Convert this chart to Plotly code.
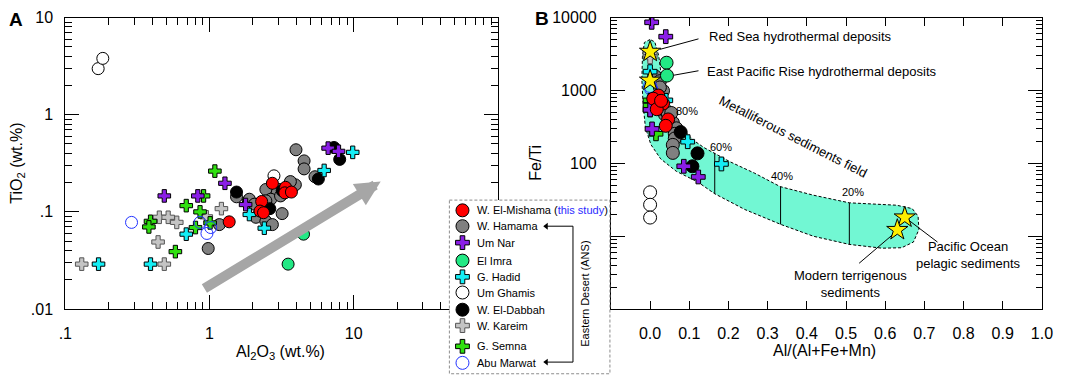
import numpy as np
import plotly.graph_objects as go

W, H = 1065, 384
FONT = "Arial, 'Liberation Sans', sans-serif"

# ---------------- Panel A : Al2O3 (wt.%) vs TiO2 (wt.%) ----------------
mishama_al2o3 = [2.73, 3.37, 3.33, 3.70, 2.30, 2.24, 2.37, 1.37]
mishama_tio2 = [0.197, 0.179, 0.157, 0.160, 0.128, 0.102, 0.098, 0.079]
hamama_al2o3 = [3.98, 4.53, 4.53, 5.39, 0.98, 1.17, 1.54, 1.86, 2.10, 2.46, 2.73, 3.19, 2.46,
                3.03, 3.74, 3.19, 3.94, 1.89, 3.64, 2.95, 2.66, 2.05, 2.46, 3.28, 3.11]
hamama_tio2 = [0.436, 0.335, 0.277, 0.230, 0.042, 0.074, 0.143, 0.130, 0.088, 0.080, 0.074, 0.096, 0.170,
               0.170, 0.180, 0.152, 0.190, 0.135, 0.205, 0.157, 0.135, 0.120, 0.130, 0.170, 0.146]
umnar_al2o3 = [6.65, 7.85, 0.486, 0.83, 1.28, 1.78]
umnar_tio2 = [0.453, 0.42, 0.146, 0.146, 0.197, 0.119]
elimra_al2o3 = [4.49, 3.51]
elimra_tio2 = [0.059, 0.029]
hadid_al2o3 = [9.85, 6.24, 0.17, 0.39, 0.69, 2.40, 1.89]
hadid_tio2 = [0.41, 0.267, 0.029, 0.029, 0.059, 0.068, 0.094]
ghamis_al2o3 = [0.169, 0.182, 2.80]
ghamis_tio2 = [2.98, 3.80, 0.235]
dabbah_al2o3 = [7.3, 8.0, 5.69, 1.54, 2.62, 3.19]
dabbah_tio2 = [0.46, 0.347, 0.218, 0.16, 0.108, 0.166]
kareim_al2o3 = [1.21, 0.449, 0.517, 0.593, 0.95, 0.44, 0.13, 0.486]
kareim_tio2 = [0.108, 0.088, 0.088, 0.078, 0.089, 0.049, 0.029, 0.029]
semna_al2o3 = [1.09, 0.91, 0.69, 0.86, 0.39, 0.38, 0.80, 0.58, 1.01]
semna_tio2 = [0.263, 0.146, 0.116, 0.100, 0.080, 0.070, 0.069, 0.039, 0.077]
marwat_al2o3 = [0.288, 0.86, 0.96, 1.02]
marwat_tio2 = [0.078, 0.078, 0.060, 0.069]

# trend arrow (start / end in data units)
trend_al2o3 = [0.90, 15.4]
trend_tio2 = [0.0159, 0.205]

# ---------------- Panel B : Al/(Al+Fe+Mn) vs Fe/Ti ----------------
mishama_ratio = [0.021, 0.008, 0.033, 0.017, 0.046, 0.040, 0.028]
mishama_feti = [851, 770, 661, 552, 400, 327, 720]
hamama_ratio = [0.013, 0.025, 0.033, 0.025, 0.038, 0.050, 0.058, 0.067, 0.063, 0.063, 0.058, 0.058,
                0.030, 0.045, 0.054]
hamama_feti = [1556, 1340, 989, 1100, 465, 420, 362, 302, 254, 219, 179, 139, 560, 480, 491]
umnar_ratio = [0.004, 0.040, 0.086, 0.123, 0.005, 0.000]
umnar_feti = [8600, 5470, 91, 65, 296, 541]
elimra_ratio = [0.042, 0.043]
elimra_feti = [2400, 1600]
hadid_ratio = [0.096, 0.182, 0.000, 0.040]
hadid_feti = [198, 98, 1810, 731]
ghamis_ratio = [0.0, 0.0, 0.0]
ghamis_feti = [40, 27, 18]
dabbah_ratio = [0.078, 0.121, 0.108]
dabbah_feti = [268, 137, 91]
kareim_ratio = [0.0, 0.0]
kareim_feti = [3150, 2900]
semna_ratio = [0.0, 0.0, 0.015, 0.0]
semna_feti = [731, 541, 254, 620]
marwat_ratio = [0.0, 0.003]
marwat_feti = [1150, 1040]

ref_names = ["Red Sea hydrothermal deposits", "East Pacific Rise hydrothermal deposits",
             "Pacific Ocean<br>pelagic sediments", "Modern terrigenous<br>sediments"]
ref_ratio = [0.0, 0.0, 0.65, 0.631]
ref_feti = [3400, 1365, 18.1, 12.2]

# metalliferous sediments field outline
field_ratio = [0.0, -0.0145, -0.0195, -0.021, -0.018, -0.012, 0.002, 0.027, 0.067, 0.121, 0.165, 0.242,
               0.3335, 0.417, 0.5085, 0.592, 0.642, 0.672, 0.686, 0.684, 0.669, 0.629, 0.5085, 0.417,
               0.332, 0.267, 0.204, 0.165, 0.137, 0.109, 0.087, 0.067, 0.052, 0.039, 0.029, 0.022,
               0.012, 0.0]
field_feti = [5000, 4560, 2990, 1406, 661, 311, 181, 115, 77.6, 55.7, 38.2, 23.2,
              14.5, 9.97, 7.71, 6.84, 6.94, 8.3, 12.3, 18.8, 23.9, 26.6, 28.7, 36.5,
              47.9, 73.1, 105, 138, 165, 210, 284, 421, 622, 950, 1540, 2990,
              4630, 5000]
mix_labels = ["80%", "60%", "40%", "20%"]
mix_label_ratio = [0.094, 0.181, 0.3375, 0.5185]
mix_label_feti = [520, 167, 66.7, 40.8]
mix_line_ratio = [0.165, 0.333, 0.5085]
mix_line_low = [38.2, 14.5, 7.6]
mix_line_high = [139, 48, 28.7]

groups = ["W. El-Mishama", "W. Hamama", "Um Nar", "El Imra", "G. Hadid", "Um Ghamis",
          "W. El-Dabbah", "W. Kareim", "G. Semna", "Abu Marwat"]

panelA = {
    "W. El-Mishama": (mishama_al2o3, mishama_tio2), "W. Hamama": (hamama_al2o3, hamama_tio2),
    "Um Nar": (umnar_al2o3, umnar_tio2), "El Imra": (elimra_al2o3, elimra_tio2),
    "G. Hadid": (hadid_al2o3, hadid_tio2), "Um Ghamis": (ghamis_al2o3, ghamis_tio2),
    "W. El-Dabbah": (dabbah_al2o3, dabbah_tio2), "W. Kareim": (kareim_al2o3, kareim_tio2),
    "G. Semna": (semna_al2o3, semna_tio2), "Abu Marwat": (marwat_al2o3, marwat_tio2)}
panelB = {
    "W. El-Mishama": (mishama_ratio, mishama_feti), "W. Hamama": (hamama_ratio, hamama_feti),
    "Um Nar": (umnar_ratio, umnar_feti), "El Imra": (elimra_ratio, elimra_feti),
    "G. Hadid": (hadid_ratio, hadid_feti), "Um Ghamis": (ghamis_ratio, ghamis_feti),
    "W. El-Dabbah": (dabbah_ratio, dabbah_feti), "W. Kareim": (kareim_ratio, kareim_feti),
    "G. Semna": (semna_ratio, semna_feti), "Abu Marwat": (marwat_ratio, marwat_feti)}

styles = {
    "W. El-Mishama": dict(symbol="circle", color="#ff0000", line="#000000", lw=1),
    "W. Hamama": dict(symbol="circle", color="#808080", line="#000000", lw=1),
    "Um Nar": dict(symbol="cross", color="#8a1ee6", line="#000000", lw=1),
    "El Imra": dict(symbol="circle", color="#22e884", line="#000000", lw=1),
    "G. Hadid": dict(symbol="cross", color="#14eef5", line="#000000", lw=1),
    "Um Ghamis": dict(symbol="circle", color="#ffffff", line="#000000", lw=1),
    "W. El-Dabbah": dict(symbol="circle", color="#000000", line="#000000", lw=1),
    "W. Kareim": dict(symbol="cross", color="#c4c4c4", line="#555555", lw=1),
    "G. Semna": dict(symbol="cross", color="#30e010", line="#000000", lw=1),
    "Abu Marwat": dict(symbol="circle-open", color="#2233ff", line="#2233ff", lw=1),
}
draw_order = ["W. Hamama", "W. El-Dabbah", "Um Ghamis", "W. Kareim", "G. Semna", "Abu Marwat",
              "El Imra", "G. Hadid", "Um Nar", "W. El-Mishama"]


def marker(name, size):
    s = styles[name]
    sz = size - 1.5 if s["symbol"] == "cross" else size
    return dict(symbol=s["symbol"], size=sz, color=s["color"],
                line=dict(color=s["line"], width=s["lw"]))


fig = go.Figure()

# ---- panel B field first ----
fig.add_trace(go.Scatter(x=field_ratio, y=field_feti, xaxis="x2", yaxis="y2", mode="lines",
                         fill="toself", fillcolor="#72f7d3",
                         line=dict(color="black", width=1, dash="3px,2px"),
                         hoverinfo="skip", showlegend=False))
for xr, lo, hi in zip(mix_line_ratio, mix_line_low, mix_line_high):
    fig.add_trace(go.Scatter(x=[xr, xr], y=[lo, hi], xaxis="x2", yaxis="y2", mode="lines",
                             line=dict(color="black", width=1), hoverinfo="skip", showlegend=False))

# leader lines in panel B
leader_ratio = [(0.025, 0.1235), (0.029, 0.1235), (0.6585, 0.7335), (0.621, 0.5335)]
leader_feti = [(3660, 5100), (1507, 1862), (16.8, 8.3), (10.7, 4.25)]
for lx, ly in zip(leader_ratio, leader_feti):
    fig.add_trace(go.Scatter(x=list(lx), y=list(ly), xaxis="x2", yaxis="y2", mode="lines",
                             line=dict(color="black", width=1), hoverinfo="skip", showlegend=False))

for g in draw_order:
    xa, ya = panelA[g]
    fig.add_trace(go.Scatter(x=xa, y=ya, xaxis="x", yaxis="y", mode="markers", marker=marker(g, 12),
                             hoverinfo="skip", showlegend=False))
    xb, yb = panelB[g]
    fig.add_trace(go.Scatter(x=xb, y=yb, xaxis="x2", yaxis="y2", mode="markers", marker=marker(g, 13),
                             hoverinfo="skip", showlegend=False))

fig.add_trace(go.Scatter(x=ref_ratio, y=ref_feti, xaxis="x2", yaxis="y2", mode="markers",
                         marker=dict(symbol="star", size=16, color="#ffee00", line=dict(color="black", width=1)),
                         hoverinfo="skip", showlegend=False))

# ---- overlay (pixel space) : custom legend ----
box_x = [450, 613.3, 613.3, 450, 450]
box_y = [201, 201, 382.7, 382.7, 201]
fig.add_trace(go.Scatter(x=box_x, y=box_y, xaxis="x3", yaxis="y3", mode="lines", fill="toself",
                         fillcolor="white", line=dict(color="#8c8c8c", width=1, dash="3px,2px"),
                         hoverinfo="skip", showlegend=False))
legend_rows = [211.7, 228.3, 245.5, 264.3, 281.3, 297.7, 315.7, 332.3, 354.0, 371.3]
for g, ry in zip(groups, legend_rows):
    fig.add_trace(go.Scatter(x=[463.3], y=[ry], xaxis="x3", yaxis="y3", mode="markers",
                             marker=marker(g, 13), hoverinfo="skip", showlegend=False))
fig.add_trace(go.Scatter(x=[547, 575.7, 575.7, 547], y=[228.3, 228.3, 370.5, 370.5], xaxis="x3", yaxis="y3",
                         mode="lines", line=dict(color="black", width=1), hoverinfo="skip", showlegend=False))
fig.add_trace(go.Scatter(x=[548.5, 548.5], y=[228.3, 370.5], xaxis="x3", yaxis="y3", mode="markers",
                         marker=dict(symbol="triangle-left", size=6, color="black"),
                         hoverinfo="skip", showlegend=False))

# ---- axes ----
def log_minor(lo, hi):
    return [m * 10.0 ** k for k in range(lo, hi) for m in range(2, 10)]

common = dict(showline=True, linecolor="black", linewidth=1, mirror="allticks", ticks="inside",
              tickcolor="black", tickwidth=1, showgrid=False, zeroline=False,
              tickfont=dict(family=FONT, size=16, color="black"), fixedrange=True)

fig.update_layout(
    width=W, height=H, autosize=False, margin=dict(l=0, r=0, t=0, b=0),
    paper_bgcolor="#ffffff", plot_bgcolor="rgba(0,0,0,0)", showlegend=False,
    font=dict(family=FONT, color="black"),
    xaxis=dict(type="log", range=[-1, 2], domain=[59.3 / W, 499.3 / W], anchor="y",
               tickvals=[0.1, 1, 10, 100], ticktext=[".1", "1", "10", ""], ticklen=14,
               ticklabelstandoff=10,
               minor=dict(ticks="inside", ticklen=7, tickcolor="black", tickvals=log_minor(-1, 2)), **common),
    yaxis=dict(type="log", range=[-2, 1], domain=[(H - 315) / H, (H - 10) / H], anchor="x",
               tickvals=[0.01, 0.1, 1, 10], ticktext=[".01", ".1", "1", "10"], ticklen=14,
               ticklabelstandoff=8,
               minor=dict(ticks="inside", ticklen=7, tickcolor="black", tickvals=log_minor(-2, 1)), **common),
    xaxis2=dict(range=[-0.1, 1.0], domain=[614.3 / W, 1052.7 / W], anchor="y2",
                tickvals=[round(0.1 * i, 1) for i in range(11)],
                ticktext=["%.1f" % (0.1 * i) for i in range(11)], ticklen=8, ticklabelstandoff=10, **common),
    yaxis2=dict(type="log", range=[0, 4], domain=[(H - 315) / H, (H - 10) / H], anchor="x2",
                tickvals=[1, 10, 100, 1000, 10000], ticktext=["", "", "100", "1000", "10000"],
                ticklen=14, ticklabelstandoff=10,
                minor=dict(ticks="inside", ticklen=6, tickcolor="black", tickvals=log_minor(0, 4)), **common),
    xaxis3=dict(range=[0, W], domain=[0, 1], anchor="y3", visible=False, fixedrange=True),
    yaxis3=dict(range=[H, 0], domain=[0, 1], anchor="x3", visible=False, fixedrange=True),
)

ann = []
def px(text, x, y, size=11, angle=0, xanchor="center", bold=False):
    ann.append(dict(text=("<b>%s</b>" % text) if bold else text, x=x, y=y, xref="x3", yref="y3",
                    showarrow=False, xanchor=xanchor, yanchor="middle", textangle=angle,
                    font=dict(family=FONT, size=size, color="black")))

# legend texts
for g, ry in zip(groups, legend_rows):
    label = g
    if g == "W. El-Mishama":
        label = 'W. El-Mishama (<span style="color:#2b2bff">this study</span>)'
    px(label, 476, ry, size=11, xanchor="left")
px("Eastern Desert (ANS)", 588, 299, size=11, angle=-90)

# titles and panel letters
px("Al<sub>2</sub>O<sub>3</sub> (wt.%)", 278, 360, size=16)
px("TiO<sub>2</sub> (wt.%)", 11, 162, size=16, angle=-90)
px("Al/(Al+Fe+Mn)", 831.7, 358, size=16)
px("Fe/Ti", 538, 162, size=16, angle=-90)
px("A", 9, 12, size=19, bold=True)
px("B", 543.7, 11, size=19, bold=True)

# panel B labels
def dat(text, x, y, size=13, angle=0, xanchor="center"):
    ann.append(dict(text=text, x=x, y=np.log10(y), xref="x2", yref="y2", showarrow=False,
                    xanchor=xanchor, yanchor="middle", textangle=angle,
                    font=dict(family=FONT, size=size, color="black")))

dat(ref_names[0], 0.146, 5470, xanchor="left")
dat(ref_names[1], 0.139, 1808, xanchor="left")
dat(ref_names[2], 0.8125, 5.46)
dat(ref_names[3], 0.5125, 2.24)
dat("Metalliferous sediments field", 0.364, 230, angle=27)
for t, xr, yv in zip(mix_labels, mix_label_ratio, mix_label_feti):
    dat(t, xr, yv, size=11)

# panel A trend arrow
ann.append(dict(text="", x=np.log10(trend_al2o3[1]), y=np.log10(trend_tio2[1]), xref="x", yref="y",
                ax=np.log10(trend_al2o3[0]), ay=np.log10(trend_tio2[0]), axref="x", ayref="y",
                showarrow=True, arrowhead=2, arrowsize=0.5, arrowwidth=10, arrowcolor="#a6a6a6"))

fig.update_layout(annotations=ann)
fig.write_html("out.html", config={"displayModeBar": False},
               post_script="document.body.style.margin='0px';document.body.style.overflow='hidden';")
